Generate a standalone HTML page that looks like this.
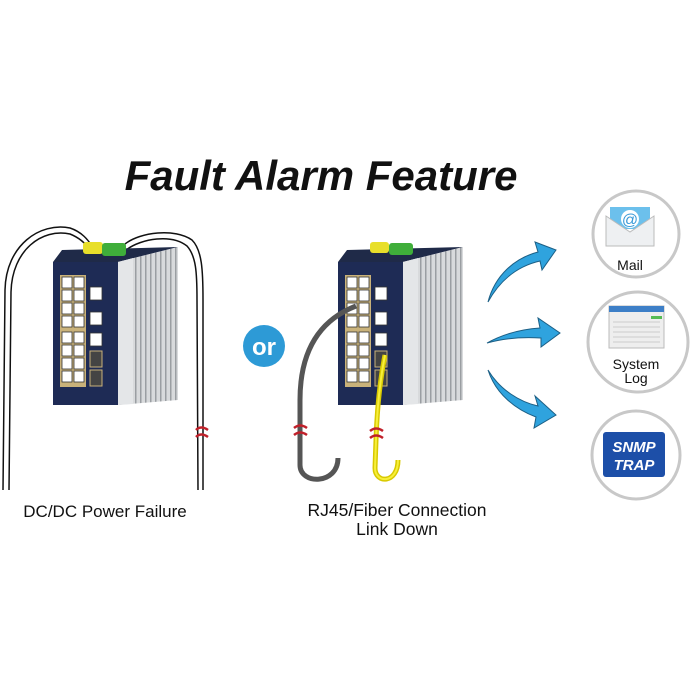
<!DOCTYPE html>
<html><head><meta charset="utf-8"><style>
html,body{margin:0;padding:0;background:#fff;}
svg{display:block;font-family:"Liberation Sans",sans-serif;}
</style></head><body>
<svg width="695" height="695" viewBox="0 0 695 695" xmlns="http://www.w3.org/2000/svg">
<defs>
<pattern id="fins" width="5" height="10" patternUnits="userSpaceOnUse">
<rect width="5" height="10" fill="#d8dadc"/><rect width="1.5" height="10" fill="#9a9ea2"/></pattern>
<g id="sw">
 <polygon points="53,262 62,250 178,247 118,262" fill="#1f2a48"/>
 <rect x="53" y="262" width="65" height="143" fill="#1e2b55"/>
 <polygon points="118,262 178,247 178,400 118,405" fill="url(#fins)"/>
 <polygon points="118,262 133,258 133,404 118,405" fill="#e4e6e8"/>
 <rect x="60" y="275" width="26" height="112" fill="#c9b27a"/>
 <g fill="#fff" stroke="#333" stroke-width="0.8">
  <rect x="62" y="277" width="10" height="11"/><rect x="74" y="277" width="10" height="11"/>
  <rect x="62" y="290" width="10" height="11"/><rect x="74" y="290" width="10" height="11"/>
  <rect x="62" y="303" width="10" height="11"/><rect x="74" y="303" width="10" height="11"/>
  <rect x="62" y="316" width="10" height="11"/><rect x="74" y="316" width="10" height="11"/>
  <rect x="62" y="332" width="10" height="11"/><rect x="74" y="332" width="10" height="11"/>
  <rect x="62" y="345" width="10" height="11"/><rect x="74" y="345" width="10" height="11"/>
  <rect x="62" y="358" width="10" height="11"/><rect x="74" y="358" width="10" height="11"/>
  <rect x="62" y="371" width="10" height="11"/><rect x="74" y="371" width="10" height="11"/>
  <rect x="90" y="287" width="12" height="13"/><rect x="90" y="312" width="12" height="13"/><rect x="90" y="333" width="12" height="13"/>
 </g>
 <rect x="90" y="351" width="12" height="16" fill="#444" stroke="#c9b27a"/>
 <rect x="90" y="370" width="12" height="16" fill="#444" stroke="#c9b27a"/>
</g>
</defs>

<text x="321" y="190" text-anchor="middle" font-size="42" font-weight="bold" font-style="italic" fill="#111">Fault Alarm Feature</text>

<!-- left cables -->
<g fill="none" stroke="#111" stroke-width="1.5">
 <path d="M3,490 L5,290 C6,245 40,222 70,228 C82,232 88,240 92,246"/>
 <path d="M9,490 L11,292 C12,250 42,228 70,234 C80,238 86,244 90,250"/>
 <path d="M125,244 C140,232 175,228 192,240 C202,250 203,270 203,300 L203,490"/>
 <path d="M126,250 C142,238 172,234 187,246 C196,256 197,272 197,300 L198,490"/>
</g>
<use href="#sw"/>
<rect x="83" y="242" width="20" height="12" rx="3" fill="#e8df2a"/>
<rect x="102" y="243" width="24" height="13" rx="3" fill="#3fae3a"/>
<path d="M196,430 q5,-5 12,0 M196,437 q5,-5 12,0" stroke="#c0202a" stroke-width="2.5" fill="none"/>

<!-- or -->
<circle cx="264" cy="346" r="21" fill="#2d9ad6"/>
<text x="264" y="355" text-anchor="middle" font-size="24" font-weight="bold" fill="#fff">or</text>

<!-- middle switch -->
<g transform="translate(285,0)"><use href="#sw"/></g>
<rect x="370" y="242" width="19" height="11" rx="3" fill="#e8df2a"/>
<rect x="389" y="243" width="24" height="12" rx="3" fill="#3fae3a"/>
<path d="M356,306 C320,320 300,350 300,400 L300,465 C300,485 338,485 338,458" fill="none" stroke="#555" stroke-width="5"/>
<path d="M385,355 C380,380 377,410 376,440 L375,468 C375,484 398,484 398,460" fill="none" stroke="#d8c900" stroke-width="5"/>
<path d="M385,355 C380,380 377,410 376,440 L375,468 C375,484 398,484 398,460" fill="none" stroke="#f7ef3a" stroke-width="2"/>
<path d="M294,428 q6,-5 13,0 M294,435 q6,-5 13,0" stroke="#c0202a" stroke-width="2.5" fill="none"/>
<path d="M370,431 q6,-5 13,0 M370,438 q6,-5 13,0" stroke="#c0202a" stroke-width="2.5" fill="none"/>

<text x="105" y="517" text-anchor="middle" font-size="17" fill="#111">DC/DC Power Failure</text>
<text x="397" y="516" text-anchor="middle" font-size="17.5" fill="#111">RJ45/Fiber Connection</text>
<text x="397" y="535" text-anchor="middle" font-size="17.5" fill="#111">Link Down</text>

<!-- arrows -->
<g fill="#2fa3de" stroke="#1c5f85" stroke-width="1">
 <path d="M488,302 C495,275 515,258 538,252 L535,242 L556,250 L542,270 L540,261 C518,266 500,280 488,302 Z"/>
 <path d="M487,343 C505,333 525,329 540,328 L538,318 L560,333 L541,347 L541,338 C525,337 505,338 487,343 Z"/>
 <path d="M488,370 C500,390 520,402 538,406 L535,396 L556,415 L534,428 L536,417 C517,410 496,395 488,370 Z"/>
</g>

<!-- circles -->
<g fill="#fff" stroke="#c8c8c8" stroke-width="3">
 <circle cx="636" cy="234" r="43"/>
 <circle cx="638" cy="342" r="50"/>
 <circle cx="636" cy="455" r="44"/>
</g>
<rect x="610" y="207" width="40" height="22" fill="#6cc0ec"/>
<polygon points="606,216 630,232 654,216 654,246 606,246" fill="#eef0f2" stroke="#bbb"/>
<circle cx="630" cy="219" r="9" fill="#fff"/>
<text x="630" y="225" text-anchor="middle" font-size="16" fill="#3a9ad8">@</text>
<text x="630" y="270" text-anchor="middle" font-size="14" fill="#111">Mail</text>
<rect x="609" y="306" width="55" height="42" fill="#eee" stroke="#bbb"/>
<rect x="609" y="306" width="55" height="6" fill="#3d7fc7"/>
<g stroke="#ccc" stroke-width="1"><line x1="613" y1="322" x2="660" y2="322"/><line x1="613" y1="327" x2="660" y2="327"/><line x1="613" y1="332" x2="660" y2="332"/><line x1="613" y1="337" x2="660" y2="337"/><line x1="613" y1="342" x2="660" y2="342"/></g>
<rect x="651" y="316" width="11" height="3" fill="#5b5"/>
<text x="636" y="369" text-anchor="middle" font-size="14" fill="#111">System</text>
<text x="636" y="383" text-anchor="middle" font-size="14" fill="#111">Log</text>
<rect x="603" y="432" width="62" height="45" rx="3" fill="#1d4fa8"/>
<text x="634" y="452" text-anchor="middle" font-size="15" font-weight="bold" font-style="italic" fill="#fff">SNMP</text>
<text x="634" y="470" text-anchor="middle" font-size="15" font-weight="bold" font-style="italic" fill="#fff">TRAP</text>
</svg>
</body></html>
